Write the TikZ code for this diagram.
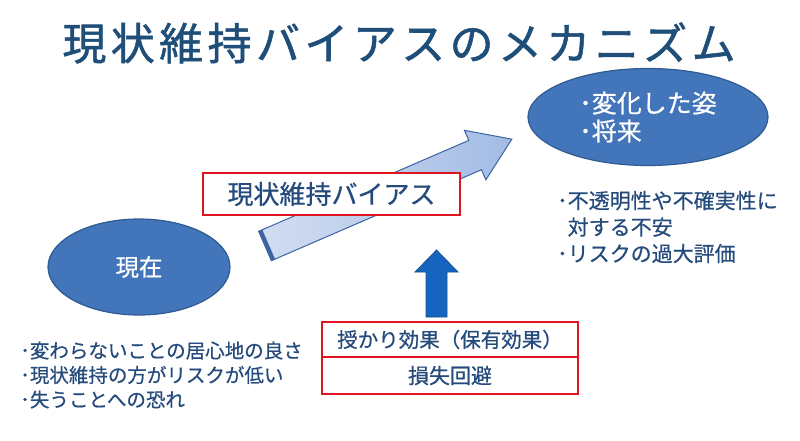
\documentclass[tikz,border=0pt]{standalone}
\usepackage{fontspec}
\setmainfont{Noto Sans CJK JP}[FakeBold=0.6]
\newfontfamily\titlefont{Noto Sans CJK JP}[FakeBold=1.2, LetterSpace=10]
\usetikzlibrary{positioning, shapes.geometric}

\definecolor{titleblue}{HTML}{1F4E79}
\definecolor{textblue}{HTML}{244B7C}
\definecolor{ovalfill}{HTML}{4275B9}
\definecolor{ovaledge}{HTML}{2F5B93}
\definecolor{boxred}{HTML}{E0141E}
\definecolor{pushblue}{HTML}{1565C0}
\definecolor{pushedge}{HTML}{1A4F8F}
\definecolor{arrowlight}{HTML}{D2DDF1}
\definecolor{arrowdark}{HTML}{A3BCE5}
\definecolor{arrowedge}{HTML}{3B64A0}

\begin{document}
\begin{tikzpicture}[
    x=1pt, y=-1pt,
    oval/.style={ellipse, fill=ovalfill, draw=ovaledge, line width=1.2pt, text=white, inner sep=0pt},
    redbox/.style={rectangle, draw=boxred, line width=2.7pt, fill=white, text=textblue, inner sep=0pt, outer sep=0pt},
    bullets/.style={text=textblue, align=left, anchor=west, inner sep=0pt},
    bigarrow/.style={left color=arrowlight, right color=arrowdark, draw=arrowedge, line width=1pt},
    pusharrow/.style={fill=pushblue, draw=pushedge, line width=0.8pt},
]
    \useasboundingbox (0,0) rectangle (800,440);

    % Title
    \node[text=titleblue, font=\titlefont\fontsize{44}{50}\selectfont] (title) at (399,43) {現状維持バイアスのメカニズム};

    % Ovals
    \node[oval, minimum width=182pt, minimum height=96pt, font=\fontsize{23.5}{28}\selectfont] (now) at (139,267) {現在};
    \node[oval, minimum width=240pt, minimum height=97pt, align=left, font=\fontsize{25}{28}\selectfont] (future) at (648,117) {･変化した姿\\･将来};

    % Big arrow
    \coordinate (tail) at (265,246);
    \coordinate (tip) at (512,141);
    \begin{scope}[shift={(tail)}, rotate=23.4]
        \shade[bigarrow] (0,-16) -- (229,-16) -- (229,-27) -- (269,0) -- (229,27) -- (229,16) -- (0,16) -- cycle;
        \fill[arrowedge] (0,-16) rectangle (4,16);
    \end{scope}

    % Bias label
    \node[redbox, minimum width=257pt, minimum height=42pt, font=\fontsize{26}{30}\selectfont] (bias) at (331.5,194) {現状維持バイアス};

    % Effects
    \node[redbox, minimum width=256pt, minimum height=35pt, font=\fontsize{20.5}{24}\selectfont] (endow) at (450,339.5) {授かり効果（保有効果）};
    \node[redbox, minimum width=256pt, minimum height=37pt, font=\fontsize{21}{24}\selectfont, below=0pt of endow] (loss) {損失回避};

    % Push arrow
    \fill[pusharrow] (426,317) -- (426,272) -- (415,272) -- (436.5,250) -- (458,272) -- (447,272) -- (447,317) -- cycle;

    % Notes
    \node[bullets, font=\fontsize{19.5}{24.5}\selectfont] (stay) at (20,375) {･変わらないことの居心地の良さ\\･現状維持の方がリスクが低い\\･失うことへの恐れ};
    \node[bullets, font=\fontsize{21}{26.5}\selectfont] (fear) at (557,227) {･不透明性や不確実性に\\\phantom{･}対する不安\\･リスクの過大評価};
\end{tikzpicture}
\end{document}
